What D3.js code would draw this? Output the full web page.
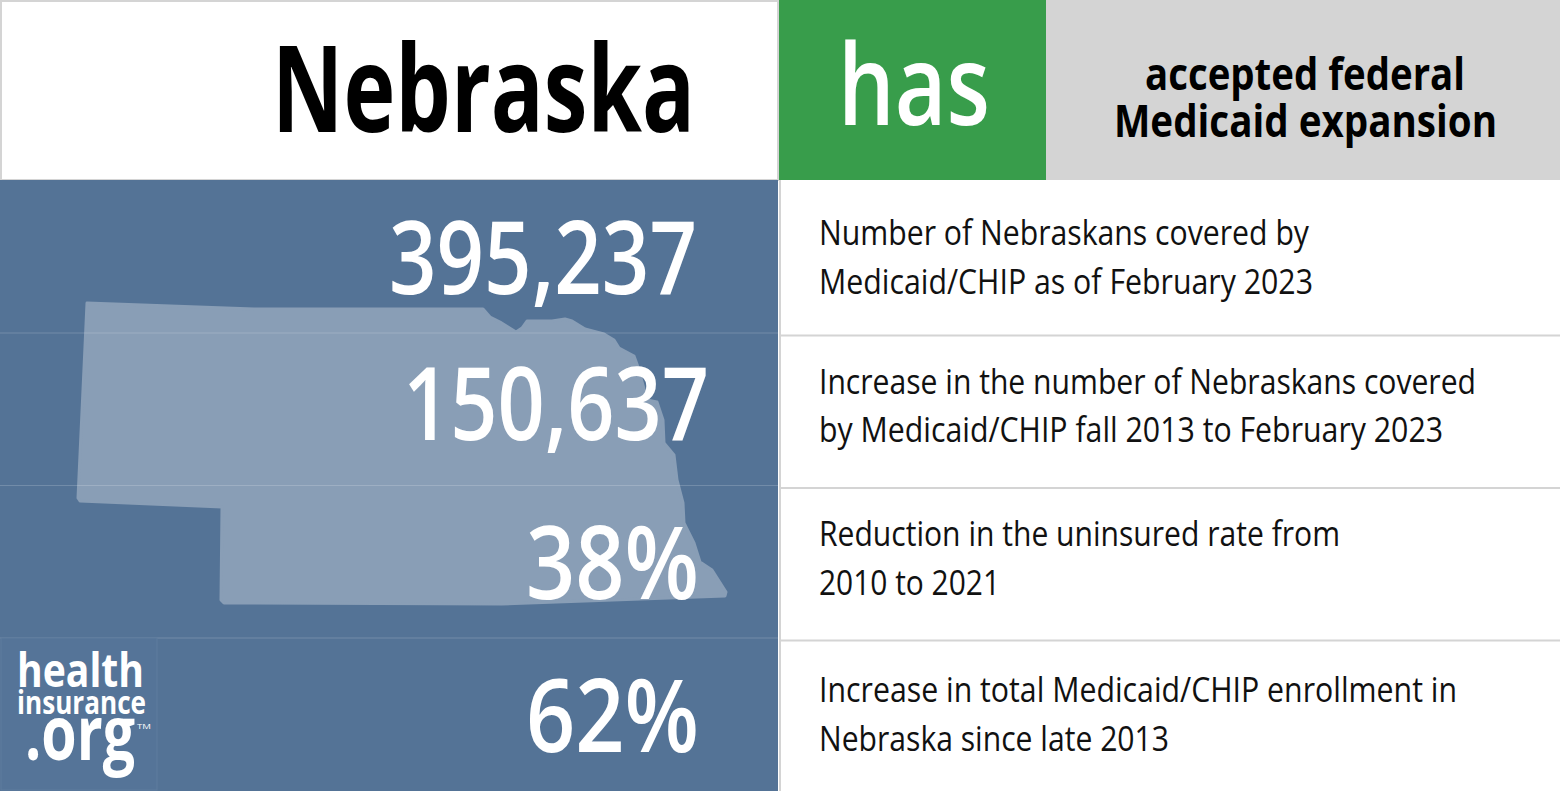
<!DOCTYPE html>
<html>
<head>
<meta charset="utf-8">
<script src="https://cdnjs.cloudflare.com/ajax/libs/d3/7.8.5/d3.min.js"></script>
<style>
  html, body { margin: 0; padding: 0; background: #fff; overflow: hidden; }
  svg { display: block; }
  text { font-family: "Open Sans", sans-serif; }
</style>
</head>
<body>
<script>
const stateName = 'Nebraska'
const statusWord = 'has'
const statusLines = ['accepted federal', 'Medicaid expansion']
const statValues = ['395,237', '150,637', '38%', '62%']
const statLabels = [
  ['Number of Nebraskans covered by', 'Medicaid/CHIP as of February 2023'],
  ['Increase in the number of Nebraskans covered', 'by Medicaid/CHIP fall 2013 to February 2023'],
  ['Reduction in the uninsured rate from', '2010 to 2021'],
  ['Increase in total Medicaid/CHIP enrollment in', 'Nebraska since late 2013']
]
// state outline, in map units
const outline = [
  [9, 0], [176, 6], [405, 6], [412, 14], [422, 19], [438, 29], [444, 25], [449, 18],
  [474, 18], [487, 16], [494, 18], [507, 26], [526, 31], [536, 37], [541, 45], [556, 53],
  [560, 64], [569, 97], [579, 99], [585, 117], [586, 140], [596, 152], [599, 177],
  [605, 200], [606, 220], [616, 240], [622, 259], [634, 267], [648, 289], [647, 293],
  [424, 301], [146, 300], [143, 297], [144, 204], [2, 198], [0, 195]
]

// widths of each text, as measured on the reference
const valueRight = [697, 709, 699, 699]
const valueWidth = [308, 306, 173, 173]
const valueBaseline = [294, 440, 599, 752]
const labelWidth = [[490, 494], [657, 624], [521, 181], [638, 350]]
const labelBaseline = [[245, 294], [394, 442], [546, 595], [702, 751]]

const width = 1560
const height = 791
const splitX = 778
const headerH = 180

const svg = d3.select('body').append('svg')
  .attr('width', width)
  .attr('height', height)

const rowY = d3.scaleBand()
  .domain(d3.range(statValues.length))
  .range([headerH + 1, height])

const mapX = d3.scaleLinear().domain([0, 649]).range([78, 727])
const mapY = d3.scaleLinear().domain([0, 302]).range([303, 605])

const fitText = (sel, w) => sel
  .attr('textLength', w)
  .attr('lengthAdjust', 'spacingAndGlyphs')

const renderHeader = () => {
  svg.append('rect').attr('x', 1).attr('y', 1).attr('width', splitX - 1).attr('height', headerH - 1)
    .attr('fill', '#fff').attr('stroke', '#d4d4d4').attr('stroke-width', 2)
  svg.append('rect').attr('x', 779).attr('y', 0).attr('width', 267).attr('height', headerH).attr('fill', '#389d4b')
  svg.append('rect').attr('x', 1046).attr('y', 0).attr('width', width - 1046).attr('height', headerH).attr('fill', '#d4d4d4')

  svg.append('text').attr('x', 272).attr('y', 132)
    .attr('font-size', 120).attr('font-weight', 700).attr('fill', '#000')
    .call(fitText, 423)
    .text(stateName)

  svg.append('text').attr('x', 838).attr('y', 125)
    .attr('font-size', 113).attr('font-weight', 600).attr('fill', '#fff')
    .call(fitText, 152)
    .text(statusWord)

  svg.selectAll('.status')
    .data(statusLines)
    .enter()
    .append('text')
      .attr('class', 'status')
      .attr('x', (d, i) => [1145, 1114][i])
      .attr('y', (d, i) => [90, 137][i])
      .attr('font-size', 44)
      .attr('font-weight', 700)
      .attr('fill', '#000')
      .each(function (d, i) { d3.select(this).call(fitText, [320, 383][i]) })
      .text((d) => d)
}

const renderLeftPanel = () => {
  svg.append('rect').attr('x', 0).attr('y', headerH).attr('width', splitX).attr('height', height - headerH).attr('fill', '#547396')

  const line = d3.line().x((d) => mapX(d[0])).y((d) => mapY(d[1])).curve(d3.curveLinearClosed)
  svg.append('path').attr('d', line(outline))
    .attr('fill', '#899eb6').attr('stroke', '#899eb6').attr('stroke-width', 3).attr('stroke-linejoin', 'round')

  svg.selectAll('.row-line')
    .data(d3.range(1, statValues.length))
    .enter()
    .append('rect')
      .attr('class', 'row-line')
      .attr('x', 0)
      .attr('y', (d) => rowY(d) - 1)
      .attr('width', splitX)
      .attr('height', 1)
      .attr('fill', '#fff')
      .attr('opacity', 0.18)

  svg.selectAll('.value')
    .data(statValues)
    .enter()
    .append('text')
      .attr('class', 'value')
      .attr('x', (d, i) => valueRight[i] - valueWidth[i])
      .attr('y', (d, i) => valueBaseline[i])
      .attr('font-size', 101)
      .attr('font-weight', 600)
      .attr('fill', '#fff')
      .each(function (d, i) { d3.select(this).call(fitText, valueWidth[i]) })
      .text((d) => d)
}

const renderRightPanel = () => {
  svg.append('rect').attr('x', 780).attr('y', headerH).attr('width', width - 780).attr('height', height - headerH).attr('fill', '#fff')
  svg.append('rect').attr('x', 779).attr('y', headerH).attr('width', 2).attr('height', height - headerH).attr('fill', '#d4d4d4')

  svg.selectAll('.right-line')
    .data(d3.range(1, statValues.length))
    .enter()
    .append('rect')
      .attr('class', 'right-line')
      .attr('x', 780)
      .attr('y', (d) => rowY(d) + 1)
      .attr('width', width - 780)
      .attr('height', 2)
      .attr('fill', '#d4d4d4')

  statLabels.forEach((lines, row) => {
    svg.selectAll('.label-' + row)
      .data(lines)
      .enter()
      .append('text')
        .attr('class', 'label-' + row)
        .attr('x', 819)
        .attr('y', (d, i) => labelBaseline[row][i])
        .attr('font-size', 34)
        .attr('fill', '#111')
        .each(function (d, i) { d3.select(this).call(fitText, labelWidth[row][i]) })
        .text((d) => d)
  })
}

const renderLogo = () => {
  const logo = svg.append('g')
  logo.append('rect').attr('x', 1).attr('y', 638).attr('width', 156).attr('height', 152)
    .attr('fill', '#557498').attr('stroke', '#5f7d9e').attr('stroke-width', 1)
  const t = (str, x, y, size, w, weight) => logo.append('text')
    .attr('x', x).attr('y', y).attr('font-size', size).attr('font-weight', weight || 700).attr('fill', '#fff')
    .call(fitText, w).text(str)
  t('health', 17, 687, 47, 127)
  t('insurance', 17, 714, 33, 129)
  t('.org', 25, 760, 75, 110)
  t('TM', 137, 729, 8, 14, 400)
}

renderHeader()
renderLeftPanel()
renderRightPanel()
renderLogo()
</script>
</body>
</html>
